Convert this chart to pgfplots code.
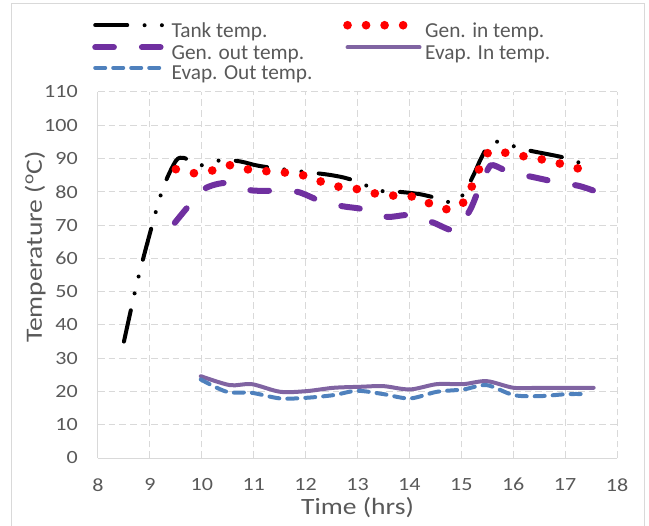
\documentclass[border=0pt]{standalone}
\usepackage{fontspec}
\setmainfont{Carlito}
\newfontfamily\widefont{Carlito}[FakeStretch=1.18]
\usepackage{pgfplots}
\pgfplotsset{compat=1.18}
\definecolor{txtgray}{HTML}{595959}
\definecolor{gridgray}{HTML}{D9D9D9}
\definecolor{genout}{HTML}{7030A0}
\definecolor{evapin}{HTML}{8064A2}
\definecolor{evapout}{HTML}{4F81BD}

\begin{document}
\begin{tikzpicture}
\begin{axis}[
  scale only axis, width=389.25pt, height=274.5pt,
  xmin=8, xmax=18, ymin=0, ymax=110,
  xtick={8,9,...,18}, ytick={0,10,...,110},
  grid=major,
  major grid style={draw=gridgray, line width=0.75pt, dash pattern=on 5pt off 3pt},
  axis x line*=bottom, axis y line*=left,
  axis line style={-, draw=gridgray, line width=0.75pt},
  tick style={draw=none},
  /pgf/number format/assume math mode=true,
  ticklabel style={font=\widefont\fontsize{14}{16}\selectfont, text=txtgray},
  yticklabel style={anchor=east, inner sep=0pt, xshift=-15pt},
  xticklabel style={anchor=north, inner sep=0pt, yshift=-15pt},
  xlabel={Time (hrs)},
  ylabel={Temperature (\textsuperscript{o}C)},
  label style={font=\widefont\fontsize{17.5}{20}\selectfont, text=txtgray},
  xlabel style={at={(axis description cs:0.5,-0.136)}, anchor=center},
  ylabel style={at={(axis description cs:-0.121,0.5765)}, anchor=center},
  legend columns=2,
  legend cell align=left,
  legend style={at={(axis description cs:-0.0116,1.195)}, anchor=north west,
    draw=none, fill=none, inner sep=0pt, row sep=3.5pt,
    font=\fontsize{16}{19}\selectfont, text=txtgray,
    nodes={inner sep=0pt},
    /tikz/every odd column/.style={column sep=1pt},
    /tikz/every even column/.style={column sep=23pt}},
  legend image code/.code={\draw[#1] (0pt,4.5pt) -- (54pt,4.5pt);},
  every axis plot/.append style={line cap=round, line join=round}
]
% Tank temp.
\addplot[black, line width=3pt, smooth, tension=0.5,
  dash pattern=on 24pt off 13pt on 0pt off 13pt on 0pt off 13pt] coordinates {
(8.5,35) (8.75,52.5) (9,67.5) (9.25,81) (9.5,89.3) (9.65,90.2) (9.8,89)
(10,88) (10.4,89.6) (10.75,89.1) (11.1,87.8) (11.75,86.4) (12.1,85.8)
(12.5,85) (12.85,83.8) (13.45,80.3) (13.8,80) (14.2,79.3) (14.55,78)
(14.85,76.7) (15.05,79.5) (15.25,85.5) (15.4,90.6) (15.62,95.1) (16.25,92.6)
(16.95,90.4) (17.3,88.6) (17.55,86.8)};
\addlegendentry{Tank temp.}
% Gen. in temp.
\addplot[red, line width=6.5pt, smooth, tension=0.5,
  dash pattern=on 0pt off 13.9pt] coordinates {
(9.5,86.8) (9.85,85.6) (10.2,86.4) (10.54,88) (10.9,86.7) (11.25,86.2)
(11.6,85.8) (11.97,84.9) (12.31,83) (12.65,81.5) (13,80.8) (13.37,79.4)
(13.74,78.8) (14.09,78.5) (14.42,76.3) (14.77,74.7) (15.07,77.2) (15.22,82.3)
(15.36,87.4) (15.54,92.1) (15.9,91.6) (16.23,90.6) (16.6,89.6) (16.95,88.3)
(17.35,86.6)};
\addlegendentry{Gen. in temp.}
% Gen. out temp.
\addplot[genout, line width=4.5pt, smooth, tension=0.5,
  dash pattern=on 14pt off 21pt] coordinates {
(9.48,70.7) (9.76,76) (10.06,81) (10.49,82.7) (10.93,80.5) (11.38,80.3)
(11.84,80) (12.25,77.5) (12.7,75.7) (13.1,74.8) (13.56,72.5) (14,73)
(14.45,70.8) (14.88,68.5) (15.16,74.3) (15.33,80.5) (15.52,87) (15.62,88)
(15.93,85.9) (16.39,84.4) (16.81,83) (17.26,81.8) (17.56,80.3)};
\addlegendentry{Gen. out temp.}
% Evap. In temp.
\addplot[evapin, line width=3pt, smooth, tension=0.5] coordinates {
(9.98,24.6) (10.54,21.9) (10.96,22.2) (11.51,19.9) (12.02,20.1) (12.54,21.1)
(13.05,21.4) (13.5,21.6) (14.01,20.6) (14.53,22.2) (15.04,22.2) (15.49,23.1)
(16.01,21.1) (16.52,21.1) (17.04,21.1) (17.55,21.1)};
\addlegendentry{Evap. In temp.}
% Evap. Out temp.
\addplot[evapout, line width=3pt, smooth, tension=0.5,
  dash pattern=on 7.5pt off 6pt] coordinates {
(9.98,23.6) (10.48,19.9) (10.96,19.6) (11.51,17.9) (12.02,18.1) (12.54,18.9)
(12.99,20.2) (13.5,19.2) (14.01,17.9) (14.53,19.9) (15.04,20.6) (15.49,21.9)
(16.01,18.9) (16.52,18.6) (17.04,19.2) (17.45,19.2)};
\addlegendentry{Evap. Out temp.}
\end{axis}
\draw[gridgray, line width=0.75pt] (-64.5pt,-54pt) rectangle (409.5pt,340.5pt);
\pgfresetboundingbox
\useasboundingbox (-73.5pt,-50.25pt) rectangle (413.25pt,343.5pt);
\end{tikzpicture}
\end{document}
